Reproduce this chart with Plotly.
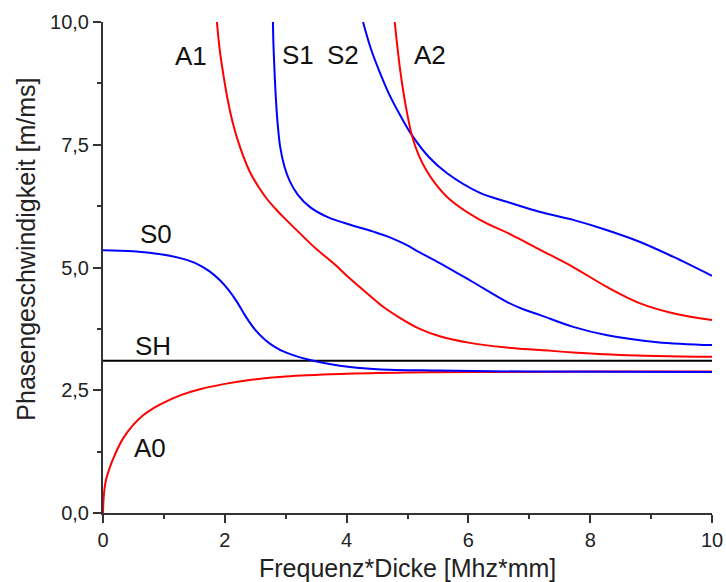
import plotly.graph_objects as go

# ---- data ----
a0_x = [0, 0.01, 0.04, 0.115, 0.2, 0.33, 0.5, 0.66, 0.85, 1.05, 1.3, 1.59, 2.0, 2.41, 3.0, 3.89, 5.0, 6.08, 8.0, 10.0]
a0_y = [0, 0.30, 0.62, 0.94, 1.20, 1.52, 1.80, 1.99, 2.15, 2.28, 2.41, 2.52, 2.63, 2.71, 2.78, 2.83, 2.86, 2.87, 2.88, 2.88]

s0_x = [0, 0.5, 1.0, 1.3, 1.55, 1.75, 1.92, 2.07, 2.2, 2.35, 2.5, 2.65, 2.8, 3.0, 3.35, 3.89, 4.5, 5.5, 7.0, 10.0]
s0_y = [5.35, 5.33, 5.26, 5.18, 5.07, 4.92, 4.74, 4.53, 4.30, 3.99, 3.73, 3.54, 3.40, 3.27, 3.13, 3.00, 2.93, 2.90, 2.88, 2.87]

sh_x = [0, 10]
sh_y = [3.1, 3.1]

a1_x = [1.87, 1.92, 1.98, 2.05, 2.14, 2.25, 2.41, 2.55, 2.69, 2.85, 3.0, 3.23, 3.5, 3.78, 4.05, 4.33, 4.6, 4.88, 5.2, 5.53, 6.0, 6.63, 7.18, 7.72, 8.5, 10.0]
a1_y = [10.0, 9.40, 8.90, 8.40, 7.90, 7.45, 6.95, 6.65, 6.40, 6.17, 5.98, 5.70, 5.38, 5.09, 4.78, 4.48, 4.20, 3.97, 3.75, 3.60, 3.47, 3.37, 3.32, 3.27, 3.22, 3.18]

s1_x = [2.79, 2.80, 2.82, 2.84, 2.87, 2.91, 2.98, 3.07, 3.2, 3.4, 3.7, 4.06, 4.44, 4.7, 4.95, 5.2, 5.53, 6.05, 6.63, 6.9, 7.18, 7.72, 8.28, 9.1, 10.0]
s1_y = [10.0, 9.5, 8.9, 8.41, 7.90, 7.45, 7.05, 6.75, 6.48, 6.23, 6.02, 5.87, 5.73, 5.62, 5.48, 5.31, 5.09, 4.72, 4.30, 4.15, 4.03, 3.79, 3.62, 3.48, 3.42]

s2_x = [4.27, 4.4, 4.55, 4.71, 4.88, 5.07, 5.35, 5.65, 6.19, 6.63, 7.18, 7.72, 8.28, 8.82, 9.36, 10.0]
s2_y = [10.0, 9.45, 8.96, 8.50, 8.10, 7.70, 7.25, 6.92, 6.52, 6.34, 6.13, 5.97, 5.76, 5.52, 5.22, 4.83]

a2_x = [4.79, 4.88, 4.97, 5.07, 5.18, 5.3, 5.45, 5.7, 6.19, 6.7, 7.18, 7.72, 8.28, 8.82, 9.36, 10.0]
a2_y = [10.0, 9.02, 8.30, 7.70, 7.30, 7.00, 6.72, 6.38, 5.97, 5.67, 5.36, 5.01, 4.60, 4.27, 4.07, 3.93]

mode_labels = ["A1", "S1", "S2", "A2", "S0", "SH", "A0"]
label_x = [1.45, 3.2, 3.94, 5.37, 0.87, 0.82, 0.77]
label_y = [9.30, 9.32, 9.32, 9.32, 5.69, 3.41, 1.33]

x_tickvals = [0, 2, 4, 6, 8, 10]
x_ticktext = ["0", "2", "4", "6", "8", "10"]
y_tickvals = [0, 2.5, 5, 7.5, 10]
y_ticktext = ["0,0", "2,5", "5,0", "7,5", "10,0"]

RED = "#ff0000"
BLUE = "#0000ff"
FONT = "Liberation Sans, Arial, sans-serif"

fig = go.Figure()
series = [
    (sh_x, sh_y, "#000000"),
    (a0_x, a0_y, RED),
    (s0_x, s0_y, BLUE),
    (a1_x, a1_y, RED),
    (s1_x, s1_y, BLUE),
    (s2_x, s2_y, BLUE),
    (a2_x, a2_y, RED),
]
for xs, ys, col in series:
    fig.add_trace(go.Scatter(x=xs, y=ys, mode="lines",
                             line=dict(color=col, width=2, shape="spline", smoothing=1.0),
                             showlegend=False, hoverinfo="skip"))

for t, lx, ly in zip(mode_labels, label_x, label_y):
    fig.add_annotation(x=lx, y=ly, xref="x", yref="y", text=t, showarrow=False,
                       font=dict(family=FONT, size=26, color="#111111"),
                       xanchor="center", yanchor="middle")

# axis titles as annotations for exact placement
fig.add_annotation(x=0.5, y=-0.111, xref="paper", yref="paper",
                   text="Frequenz*Dicke [Mhz*mm]", showarrow=False,
                   font=dict(family=FONT, size=25, color="#222222"),
                   xanchor="center", yanchor="middle")
fig.add_annotation(x=-0.127, y=0.5377, xref="paper", yref="paper",
                   text="Phasengeschwindigkeit [m/ms]", showarrow=False, textangle=-90,
                   font=dict(family=FONT, size=25, color="#222222"),
                   xanchor="center", yanchor="middle")

axis_common = dict(showline=True, linecolor="#333333", linewidth=2, mirror=False,
                   ticks="outside", ticklen=8, tickwidth=2, tickcolor="#333333",
                   showgrid=False, zeroline=False, automargin=False,
                   tickfont=dict(family=FONT, size=20, color="#222222"))

fig.update_xaxes(range=[0, 10], tickvals=x_tickvals, ticktext=x_ticktext,
                 minor=dict(ticks="outside", ticklen=4, tickwidth=2, tickcolor="#333333", dtick=1, tick0=0),
                 **axis_common)
fig.update_yaxes(range=[0, 10], tickvals=y_tickvals, ticktext=y_ticktext,
                 minor=dict(ticks="outside", ticklen=4, tickwidth=2, tickcolor="#333333", dtick=1.25, tick0=0),
                 **axis_common)

fig.update_layout(width=726, height=582,
                  margin=dict(l=103, r=14, t=22, b=69),
                  paper_bgcolor="white", plot_bgcolor="white")

fig.write_html("out.html")
